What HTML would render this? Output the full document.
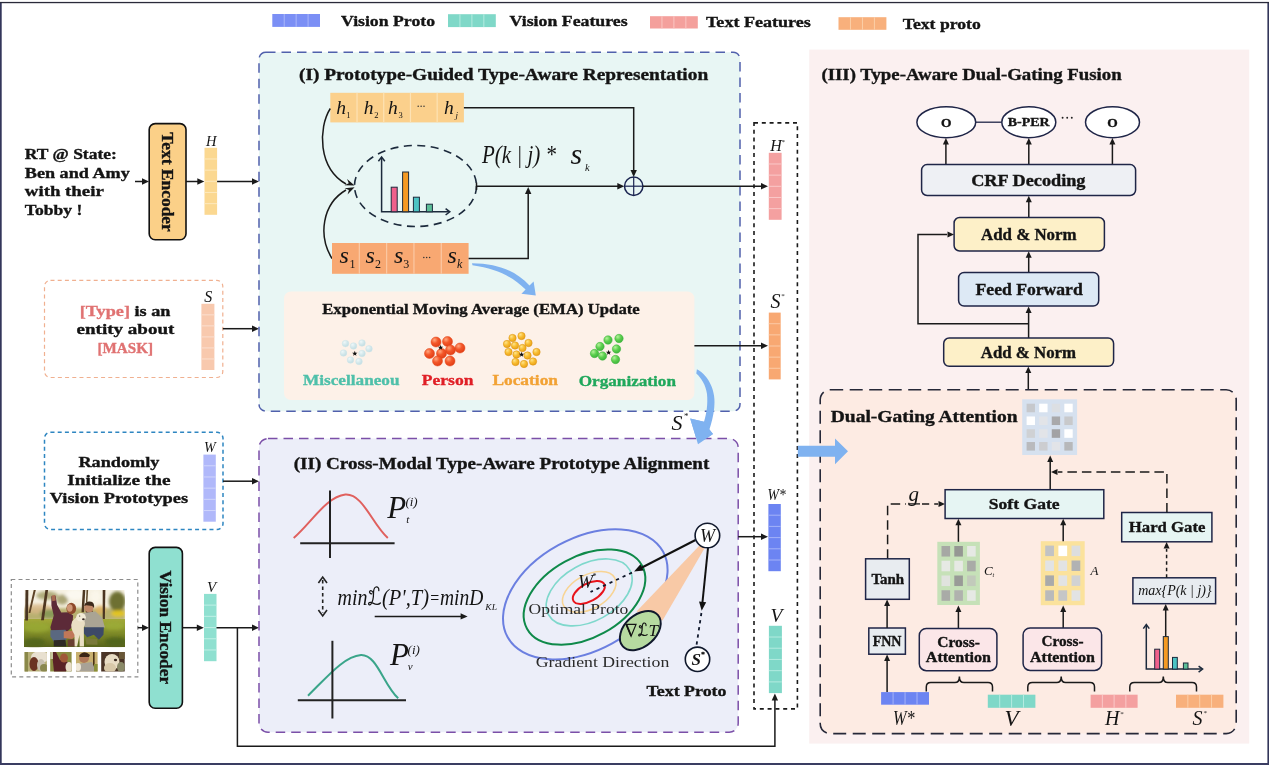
<!DOCTYPE html>
<html><head><meta charset="utf-8"><title>Framework</title>
<style>
html,body{margin:0;padding:0;background:#ffffff;}
body{width:1269px;height:765px;overflow:hidden;font-family:"Liberation Serif",serif;}
svg{display:block;will-change:transform;transform:translateZ(0);}
svg text{font-family:"Liberation Serif",serif;}
</style></head><body>
<svg width="1269" height="765" viewBox="0 0 1269 765">
<defs>
<radialGradient id="gRed" cx="35%" cy="30%" r="75%"><stop offset="0" stop-color="#ffa880"/><stop offset="0.45" stop-color="#f4582a"/><stop offset="1" stop-color="#e03c14"/></radialGradient>
<radialGradient id="gYel" cx="35%" cy="30%" r="75%"><stop offset="0" stop-color="#ffe48a"/><stop offset="0.5" stop-color="#f8bc30"/><stop offset="1" stop-color="#e8a018"/></radialGradient>
<radialGradient id="gGrn" cx="35%" cy="30%" r="75%"><stop offset="0" stop-color="#b4f29a"/><stop offset="0.5" stop-color="#5ccf4e"/><stop offset="1" stop-color="#3cb43a"/></radialGradient>
<radialGradient id="gMis" cx="35%" cy="30%" r="75%"><stop offset="0" stop-color="#eef7f8"/><stop offset="0.6" stop-color="#d0e6ea"/><stop offset="1" stop-color="#c0dce2"/></radialGradient>
</defs>
<rect x="0" y="0" width="1269" height="765" fill="#ffffff"/>

<rect x="0" y="2" width="1.7" height="763" fill="#33365a"/><rect x="1267.4" y="2" width="1.6" height="763" fill="#33365a"/><rect x="0" y="763" width="1269" height="2" fill="#3a3d62"/><rect x="0" y="1.9" width="1269" height="1.3" fill="#2a2a3a"/>
<rect x="272.3" y="14" width="47.7" height="12.9" fill="#7b8ff5"/><line x1="284.23" y1="14" x2="284.23" y2="26.9" stroke="#aab6fa" stroke-width="1"/><line x1="296.15" y1="14" x2="296.15" y2="26.9" stroke="#aab6fa" stroke-width="1"/><line x1="308.08" y1="14" x2="308.08" y2="26.9" stroke="#aab6fa" stroke-width="1"/>
<text x="341" y="26" font-size="15" font-weight="bold" font-style="normal" fill="#141414" text-anchor="start" textLength="94" lengthAdjust="spacingAndGlyphs" stroke="#141414" stroke-width="0.35" >Vision Proto</text>
<rect x="448" y="14.2" width="47.8" height="12.9" fill="#7fd8c8"/><line x1="459.95" y1="14.2" x2="459.95" y2="27.1" stroke="#b4ebe0" stroke-width="1"/><line x1="471.90" y1="14.2" x2="471.90" y2="27.1" stroke="#b4ebe0" stroke-width="1"/><line x1="483.85" y1="14.2" x2="483.85" y2="27.1" stroke="#b4ebe0" stroke-width="1"/>
<text x="509.6" y="26" font-size="15" font-weight="bold" font-style="normal" fill="#141414" text-anchor="start" textLength="118" lengthAdjust="spacingAndGlyphs" stroke="#141414" stroke-width="0.35" >Vision Features</text>
<rect x="650" y="16.2" width="47.8" height="12.3" fill="#f4a09c"/><line x1="661.95" y1="16.2" x2="661.95" y2="28.5" stroke="#fac6c2" stroke-width="1"/><line x1="673.90" y1="16.2" x2="673.90" y2="28.5" stroke="#fac6c2" stroke-width="1"/><line x1="685.85" y1="16.2" x2="685.85" y2="28.5" stroke="#fac6c2" stroke-width="1"/>
<text x="706" y="27" font-size="15" font-weight="bold" font-style="normal" fill="#141414" text-anchor="start" textLength="104.7" lengthAdjust="spacingAndGlyphs" stroke="#141414" stroke-width="0.35" >Text Features</text>
<rect x="838.5" y="17.2" width="47.9" height="12.6" fill="#f8b07c"/><line x1="850.48" y1="17.2" x2="850.48" y2="29.799999999999997" stroke="#fbcfa8" stroke-width="1"/><line x1="862.45" y1="17.2" x2="862.45" y2="29.799999999999997" stroke="#fbcfa8" stroke-width="1"/><line x1="874.42" y1="17.2" x2="874.42" y2="29.799999999999997" stroke="#fbcfa8" stroke-width="1"/>
<text x="902.8" y="29" font-size="15" font-weight="bold" font-style="normal" fill="#141414" text-anchor="start" textLength="78" lengthAdjust="spacingAndGlyphs" stroke="#141414" stroke-width="0.35" >Text proto</text>
<text x="24.8" y="159" font-size="15" font-weight="bold" font-style="normal" fill="#141414" text-anchor="start" textLength="92" lengthAdjust="spacingAndGlyphs" stroke="#141414" stroke-width="0.35" >RT @ State:</text>
<text x="24.8" y="177.5" font-size="15" font-weight="bold" font-style="normal" fill="#141414" text-anchor="start" textLength="105" lengthAdjust="spacingAndGlyphs" stroke="#141414" stroke-width="0.35" >Ben and Amy</text>
<text x="24.8" y="196" font-size="15" font-weight="bold" font-style="normal" fill="#141414" text-anchor="start" textLength="79" lengthAdjust="spacingAndGlyphs" stroke="#141414" stroke-width="0.35" >with their</text>
<text x="24.8" y="215.3" font-size="15" font-weight="bold" font-style="normal" fill="#141414" text-anchor="start" textLength="57.5" lengthAdjust="spacingAndGlyphs" stroke="#141414" stroke-width="0.35" >Tobby !</text>
<line x1="135" y1="181.5" x2="143.00" y2="181.50" stroke="#1a1a1a" stroke-width="1.5"/><polygon points="149.00,181.50 142.00,184.70 142.00,178.30" fill="#1a1a1a"/>
<rect x="149.2" y="123.6" width="36.8" height="116.2" rx="6" ry="6" fill="#fbd088" stroke="#111" stroke-width="1.6"/>
<text transform="translate(161.6,132.3) rotate(90)" font-size="16" font-weight="bold" fill="#141414" stroke="#141414" stroke-width="0.35" textLength="99.5" lengthAdjust="spacingAndGlyphs">Text Encoder</text>
<line x1="186" y1="181.5" x2="198.30" y2="181.50" stroke="#1a1a1a" stroke-width="1.5"/><polygon points="204.30,181.50 197.30,184.70 197.30,178.30" fill="#1a1a1a"/>
<text x="206" y="145.8" font-size="14.5" font-weight="normal" font-style="italic" fill="#141414" text-anchor="start" >H</text>
<rect x="204.5" y="147.8" width="12.6" height="67" fill="#fbd891"/><line x1="204.5" y1="158.97" x2="217.1" y2="158.97" stroke="#fde9bd" stroke-width="1"/><line x1="204.5" y1="170.13" x2="217.1" y2="170.13" stroke="#fde9bd" stroke-width="1"/><line x1="204.5" y1="181.30" x2="217.1" y2="181.30" stroke="#fde9bd" stroke-width="1"/><line x1="204.5" y1="192.47" x2="217.1" y2="192.47" stroke="#fde9bd" stroke-width="1"/><line x1="204.5" y1="203.63" x2="217.1" y2="203.63" stroke="#fde9bd" stroke-width="1"/>
<line x1="217.1" y1="181.5" x2="253.00" y2="181.50" stroke="#1a1a1a" stroke-width="1.5"/><polygon points="259.00,181.50 252.00,184.70 252.00,178.30" fill="#1a1a1a"/>
<rect x="44.5" y="280.3" width="178.3" height="97.2" rx="6" ry="6" fill="#ffffff" stroke="#f0b090" stroke-width="1.2" stroke-dasharray="4 3.2"/>
<text x="79.7" y="315.5" font-size="15" font-weight="bold" textLength="90.8" lengthAdjust="spacingAndGlyphs"><tspan fill="#e07272" stroke="#e07272" stroke-width="0.3">[Type]</tspan><tspan fill="#141414" stroke="#141414" stroke-width="0.35"> is an</tspan></text>
<text x="76.6" y="333.8" font-size="15" font-weight="bold" font-style="normal" fill="#141414" text-anchor="start" textLength="97.8" lengthAdjust="spacingAndGlyphs" stroke="#141414" stroke-width="0.35" >entity about</text>
<text x="97.5" y="353.4" font-size="15" font-weight="bold" font-style="normal" fill="#e07272" text-anchor="start" textLength="55.5" lengthAdjust="spacingAndGlyphs" stroke="#e07272" stroke-width="0.35" >[MASK]</text>
<text x="204.3" y="302" font-size="16" font-weight="normal" font-style="italic" fill="#141414" text-anchor="start" >S</text>
<rect x="201.4" y="303.8" width="13" height="66.2" fill="#f8c9ae"/><line x1="201.4" y1="314.83" x2="214.4" y2="314.83" stroke="#fbdfcf" stroke-width="1"/><line x1="201.4" y1="325.87" x2="214.4" y2="325.87" stroke="#fbdfcf" stroke-width="1"/><line x1="201.4" y1="336.90" x2="214.4" y2="336.90" stroke="#fbdfcf" stroke-width="1"/><line x1="201.4" y1="347.93" x2="214.4" y2="347.93" stroke="#fbdfcf" stroke-width="1"/><line x1="201.4" y1="358.97" x2="214.4" y2="358.97" stroke="#fbdfcf" stroke-width="1"/>
<line x1="222.8" y1="328.7" x2="253.00" y2="328.70" stroke="#1a1a1a" stroke-width="1.5"/><polygon points="259.00,328.70 252.00,331.90 252.00,325.50" fill="#1a1a1a"/>
<rect x="44.5" y="432.3" width="178.5" height="97.2" rx="6" ry="6" fill="#ffffff" stroke="#2e86c1" stroke-width="1.5" stroke-dasharray="4 3.2"/>
<text x="78.4" y="466.8" font-size="15.5" font-weight="bold" font-style="normal" fill="#141414" text-anchor="start" textLength="81.1" lengthAdjust="spacingAndGlyphs" stroke="#141414" stroke-width="0.35" >Randomly</text>
<text x="67.2" y="485.1" font-size="15.5" font-weight="bold" font-style="normal" fill="#141414" text-anchor="start" textLength="103.3" lengthAdjust="spacingAndGlyphs" stroke="#141414" stroke-width="0.35" >Initialize the</text>
<text x="49.7" y="503.4" font-size="15.5" font-weight="bold" font-style="normal" fill="#141414" text-anchor="start" textLength="138.5" lengthAdjust="spacingAndGlyphs" stroke="#141414" stroke-width="0.35" >Vision Prototypes</text>
<text x="204" y="451.9" font-size="14" font-weight="normal" font-style="italic" fill="#141414" text-anchor="start" >W</text>
<rect x="203.4" y="454.6" width="12.4" height="67.1" fill="#b0b8fa"/><line x1="203.4" y1="465.78" x2="215.8" y2="465.78" stroke="#d0d5fc" stroke-width="1"/><line x1="203.4" y1="476.97" x2="215.8" y2="476.97" stroke="#d0d5fc" stroke-width="1"/><line x1="203.4" y1="488.15" x2="215.8" y2="488.15" stroke="#d0d5fc" stroke-width="1"/><line x1="203.4" y1="499.33" x2="215.8" y2="499.33" stroke="#d0d5fc" stroke-width="1"/><line x1="203.4" y1="510.52" x2="215.8" y2="510.52" stroke="#d0d5fc" stroke-width="1"/>
<line x1="223" y1="481.2" x2="253.00" y2="481.20" stroke="#1a1a1a" stroke-width="1.5"/><polygon points="259.00,481.20 252.00,484.40 252.00,478.00" fill="#1a1a1a"/>
<rect x="11.3" y="579.5" width="126.5" height="97.4" fill="#ffffff" stroke="#8c8c8c" stroke-width="1.2" stroke-dasharray="4 3.2"/>
<defs>
<clipPath id="cpMain"><rect x="24.6" y="590" width="99.8" height="57.2"/></clipPath>
<clipPath id="cpT1"><rect x="24.6" y="652" width="22.3" height="19.6"/></clipPath>
<clipPath id="cpT2"><rect x="50.2" y="652" width="21.4" height="19.6"/></clipPath>
<clipPath id="cpT3"><rect x="76" y="652" width="21.6" height="19.6"/></clipPath>
<clipPath id="cpT4"><rect x="101.2" y="652" width="23.5" height="19.6"/></clipPath>
<filter id="bl1" x="-20%" y="-20%" width="140%" height="140%"><feGaussianBlur stdDeviation="0.7"/></filter>
<filter id="bl2" x="-20%" y="-20%" width="140%" height="140%"><feGaussianBlur stdDeviation="1.4"/></filter>
<filter id="blz1" x="-10%" y="-10%" width="120%" height="120%"><feGaussianBlur stdDeviation="7"/></filter>
<filter id="blz2" x="-20%" y="-20%" width="140%" height="140%"><feGaussianBlur stdDeviation="22"/></filter>
<linearGradient id="grass" x1="0" y1="0" x2="0" y2="1"><stop offset="0" stop-color="#a4aa3a"/><stop offset="0.45" stop-color="#828e2a"/><stop offset="1" stop-color="#56621c"/></linearGradient>
<linearGradient id="sky" x1="0" y1="0" x2="0" y2="1"><stop offset="0" stop-color="#f4ecd8"/><stop offset="1" stop-color="#d8cf9c"/></linearGradient>
</defs>
<g clip-path="url(#cpMain)">
<g transform="translate(22,588) scale(0.08354)">
<rect x="20" y="10" width="1220" height="380" fill="#f6f1e2"/>
<g filter="url(#blz2)">
<rect x="20" y="240" width="1220" height="150" fill="#b8b070"/>
<ellipse cx="200" cy="250" rx="170" ry="60" fill="#d8b888" opacity="0.8"/>
<ellipse cx="330" cy="310" rx="120" ry="50" fill="#8a9a58"/>
<ellipse cx="940" cy="260" rx="70" ry="50" fill="#e0b060" opacity="0.8"/>
<ellipse cx="1140" cy="160" rx="100" ry="120" fill="#6e7030"/>
<ellipse cx="1150" cy="305" rx="85" ry="40" fill="#e2c424"/>
<ellipse cx="300" cy="90" rx="130" ry="50" fill="#9a9458" opacity="0.75"/>
<ellipse cx="480" cy="140" rx="70" ry="60" fill="#8a8448" opacity="0.7"/>
<ellipse cx="640" cy="80" rx="120" ry="60" fill="#fbf8f0"/>
<ellipse cx="880" cy="100" rx="60" ry="70" fill="#faf6ea"/>
</g>
<rect x="20" y="375" width="1220" height="340" fill="url(#grass)"/>
<g filter="url(#blz2)">
<ellipse cx="180" cy="470" rx="160" ry="60" fill="#98aa34" opacity="0.8"/>
<ellipse cx="1100" cy="450" rx="130" ry="50" fill="#9cac38" opacity="0.8"/>
<ellipse cx="1120" cy="640" rx="130" ry="50" fill="#4e6216" opacity="0.8"/>
<ellipse cx="150" cy="650" rx="130" ry="50" fill="#506418" opacity="0.8"/>
</g>
<g filter="url(#blz1)">
<path d="M42,20 L76,20 L72,388 L38,388 Z" fill="#4a3420"/>
<path d="M140,25 L165,25 L100,300 L78,300 Z" fill="#5c4226"/>
<path d="M280,25 L312,25 L262,385 L228,385 Z" fill="#503820"/>
<path d="M728,22 L758,22 L742,290 L712,290 Z" fill="#4e3822"/>
<path d="M772,25 L792,25 L782,170 L766,170 Z" fill="#5e482a"/>
<path d="M966,22 L998,22 L992,372 L966,372 Z" fill="#4c3620"/>
<!-- woman -->
<path d="M352,100 L402,92 L420,200 L470,292 L560,290 L612,330 L600,470 L540,520 L350,510 L340,470 L380,330 L352,210 Z" fill="#5c2a38"/>
<path d="M356,90 L398,84 L404,150 L362,160 Z" fill="#a86a50"/>
<ellipse cx="590" cy="245" rx="58" ry="68" fill="#8e4a2a"/>
<ellipse cx="572" cy="240" rx="34" ry="44" fill="#d09878"/>
<path d="M340,505 L520,500 L560,560 L520,630 L380,640 L340,580 Z" fill="#5a6880"/>
<path d="M500,520 L620,510 L650,570 L600,610 L500,600 Z" fill="#c07858"/>
<path d="M380,625 L520,620 L530,700 L380,700 Z" fill="#2e2a26"/>
<path d="M545,620 L640,610 L640,700 L550,700 Z" fill="#6a4030"/>
<!-- man -->
<ellipse cx="800" cy="232" rx="56" ry="64" fill="#c08868"/>
<path d="M745,215 Q760,150 830,165 Q872,180 862,240 L840,215 L770,205 Z" fill="#3e2c1c"/>
<path d="M760,270 Q800,320 850,268 L846,300 L770,305 Z" fill="#6a4630"/>
<path d="M730,300 L880,280 L960,360 L992,470 L940,500 L760,480 L720,420 Z" fill="#aaa494"/>
<path d="M740,470 L980,470 L975,560 L920,620 L860,560 L780,590 L735,540 Z" fill="#3c4a68"/>
<path d="M760,600 L900,610 L905,680 L770,676 Z" fill="#7a7a3a"/>
<!-- dog -->
<path d="M600,400 Q650,330 730,350 Q770,420 740,470 L742,700 L690,700 L688,560 L660,700 L630,700 L628,560 Q570,470 600,400 Z" fill="#eadfc4"/>
<ellipse cx="706" cy="350" rx="58" ry="52" fill="#f2ead6"/>
<ellipse cx="735" cy="375" rx="16" ry="12" fill="#3a2c26"/>
<ellipse cx="690" cy="335" rx="8" ry="7" fill="#3a2c26"/>
</g>
</g>
</g>
<!-- thumbnails -->
<g clip-path="url(#cpT1)"><rect x="24" y="651" width="24" height="22" fill="#b8b078"/><g filter="url(#bl1)">
<rect x="24" y="651" width="4" height="22" fill="#8a8848"/><ellipse cx="40" cy="657" rx="9" ry="6" fill="#e8e0d0"/><ellipse cx="34" cy="664" rx="4.5" ry="7" fill="#6a3020"/><ellipse cx="41" cy="665" rx="4" ry="6" fill="#c8c0b0"/><ellipse cx="44" cy="668" rx="4" ry="4" fill="#8a8850"/></g></g>
<g clip-path="url(#cpT2)"><rect x="50" y="651" width="22" height="22" fill="#8a8c40"/><g filter="url(#bl1)">
<path d="M52,652 L56,652 L60,660 L68,662 L66,672 L54,672 Z" fill="#5a2028"/><ellipse cx="64" cy="658" rx="4" ry="4.5" fill="#a05838"/><ellipse cx="69" cy="667" rx="3.5" ry="5" fill="#e8dcc8"/><rect x="50" y="651" width="3" height="8" fill="#c8c8a0"/></g></g>
<g clip-path="url(#cpT3)"><rect x="76" y="651" width="22" height="22" fill="#c8b070"/><g filter="url(#bl1)">
<rect x="93" y="651" width="1.6" height="16" fill="#4a3018"/><ellipse cx="84" cy="658" rx="5" ry="5" fill="#b07858"/><path d="M79,656 Q84,649 90,655 L89,657 L80,657 Z" fill="#3a2818"/><path d="M77,664 L92,662 L96,672 L76,672 Z" fill="#a8a296"/><ellipse cx="78" cy="667" rx="3" ry="4" fill="#f0e8d8"/><rect x="94" y="664" width="4" height="8" fill="#8a9038"/></g></g>
<g clip-path="url(#cpT4)"><rect x="101" y="651" width="24" height="22" fill="#4a3426"/><g filter="url(#bl1)">
<ellipse cx="112" cy="662" rx="7.5" ry="8" fill="#e8dcc4"/><ellipse cx="110" cy="668" rx="6" ry="5" fill="#d8c8a8"/><ellipse cx="115.5" cy="660" rx="1.6" ry="1.3" fill="#3a2a20"/><ellipse cx="121" cy="667" rx="4" ry="5" fill="#8a8a68"/><rect x="119" y="651" width="6" height="8" fill="#6a5838"/></g></g>

<line x1="137.8" y1="627.7" x2="143.00" y2="627.70" stroke="#1a1a1a" stroke-width="1.5"/><polygon points="149.00,627.70 142.00,630.90 142.00,624.50" fill="#1a1a1a"/>
<rect x="149.2" y="547.4" width="33.2" height="160.8" rx="6" ry="6" fill="#8fe0d0" stroke="#111" stroke-width="1.6"/>
<text transform="translate(160,570.6) rotate(90)" font-size="16" font-weight="bold" fill="#141414" stroke="#141414" stroke-width="0.35" textLength="113.5" lengthAdjust="spacingAndGlyphs">Vision Encoder</text>
<line x1="182.4" y1="627.7" x2="197.80" y2="627.70" stroke="#1a1a1a" stroke-width="1.5"/><polygon points="203.80,627.70 196.80,630.90 196.80,624.50" fill="#1a1a1a"/>
<text x="207" y="591.9" font-size="15" font-weight="normal" font-style="italic" fill="#141414" text-anchor="start" >V</text>
<rect x="204" y="593.9" width="12.5" height="67.3" fill="#8fe0d0"/><line x1="204" y1="605.12" x2="216.5" y2="605.12" stroke="#c0f0e6" stroke-width="1"/><line x1="204" y1="616.33" x2="216.5" y2="616.33" stroke="#c0f0e6" stroke-width="1"/><line x1="204" y1="627.55" x2="216.5" y2="627.55" stroke="#c0f0e6" stroke-width="1"/><line x1="204" y1="638.77" x2="216.5" y2="638.77" stroke="#c0f0e6" stroke-width="1"/><line x1="204" y1="649.98" x2="216.5" y2="649.98" stroke="#c0f0e6" stroke-width="1"/>
<line x1="216.5" y1="627.7" x2="253.00" y2="627.70" stroke="#1a1a1a" stroke-width="1.5"/><polygon points="259.00,627.70 252.00,630.90 252.00,624.50" fill="#1a1a1a"/>
<polyline points="237.4,627.7 237.4,746.2 774.9,746.2 774.9,700" fill="none" stroke="#1a1a1a" stroke-width="1.5"/>
<polygon points="774.90,693.60 778.10,700.60 771.70,700.60" fill="#1a1a1a"/>
<rect x="259" y="52.3" width="481" height="358.9" rx="7" ry="7" fill="#e8f6f4" stroke="#5060ac" stroke-width="1.5" stroke-dasharray="9.5 6"/>
<text x="299" y="80" font-size="16.5" font-weight="bold" font-style="normal" fill="#141414" text-anchor="start" textLength="409.2" lengthAdjust="spacingAndGlyphs" stroke="#141414" stroke-width="0.35" >(I) Prototype-Guided Type-Aware Representation</text>
<rect x="330.3" y="92.8" width="133.6" height="29.6" fill="#fbd08c"/><line x1="357.02" y1="92.8" x2="357.02" y2="122.4" stroke="#fde2b4" stroke-width="1.2"/><line x1="383.74" y1="92.8" x2="383.74" y2="122.4" stroke="#fde2b4" stroke-width="1.2"/><line x1="410.46" y1="92.8" x2="410.46" y2="122.4" stroke="#fde2b4" stroke-width="1.2"/><line x1="437.18" y1="92.8" x2="437.18" y2="122.4" stroke="#fde2b4" stroke-width="1.2"/>
<text x="336.3" y="114.2" font-size="19.5" font-weight="normal" font-style="italic" fill="#141414" text-anchor="start" >h</text><text x="346.2" y="117.6" font-size="8.5" font-weight="normal" font-style="normal" fill="#141414" text-anchor="start" >1</text>
<text x="363.8" y="114.2" font-size="19.5" font-weight="normal" font-style="italic" fill="#141414" text-anchor="start" >h</text><text x="374.2" y="117.6" font-size="8.5" font-weight="normal" font-style="normal" fill="#141414" text-anchor="start" >2</text>
<text x="388" y="114.2" font-size="19.5" font-weight="normal" font-style="italic" fill="#141414" text-anchor="start" >h</text><text x="398.6" y="117.6" font-size="8.5" font-weight="normal" font-style="normal" fill="#141414" text-anchor="start" >3</text>
<text x="444" y="114.2" font-size="19.5" font-weight="normal" font-style="italic" fill="#141414" text-anchor="start" >h</text><text x="455.4" y="117.6" font-size="9" font-weight="normal" font-style="italic" fill="#141414" text-anchor="start" >j</text>
<circle cx="418.2" cy="106.3" r="0.75" fill="#333"/>
<circle cx="421.09999999999997" cy="106.3" r="0.75" fill="#333"/>
<circle cx="424.0" cy="106.3" r="0.75" fill="#333"/>
<polyline points="463.9,107.7 633.7,107.7 633.7,171" fill="none" stroke="#1a1a1a" stroke-width="1.5"/>
<polygon points="633.70,177.00 630.50,170.00 636.90,170.00" fill="#1a1a1a"/>
<ellipse cx="415.5" cy="186" rx="61" ry="40.5" fill="none" stroke="#1c2a3c" stroke-width="1.6" stroke-dasharray="8 5.5"/>
<polyline points="381.6,158 381.6,211.8 448.8,211.8" fill="none" stroke="#1c2a3c" stroke-width="1.5"/><polyline points="378.40000000000003,161.2 381.6,157 384.8,161.2" fill="none" stroke="#1c2a3c" stroke-width="1.5"/><polyline points="445.6,208.60000000000002 449.8,211.8 445.6,215.0" fill="none" stroke="#1c2a3c" stroke-width="1.5"/><rect x="391.2" y="187.2" width="6.00" height="24.60" fill="#f0608c" stroke="#1c2a3c" stroke-width="1"/><rect x="402.6" y="172" width="6.00" height="39.80" fill="#f59a23" stroke="#1c2a3c" stroke-width="1"/><rect x="413.4" y="197.2" width="6.00" height="14.60" fill="#4cc4c4" stroke="#1c2a3c" stroke-width="1"/><rect x="426.4" y="204.2" width="6.00" height="7.60" fill="#5cbf98" stroke="#1c2a3c" stroke-width="1"/>
<path d="M330.3,108.5 C318,128 318,168 346,184" fill="none" stroke="#1a1a1a" stroke-width="1.5"/>
<polygon points="354.60,185.60 344.52,185.19 348.76,183.24 347.07,178.89" fill="#1a1a1a"/>
<path d="M332,258.5 C318,236 322,204 346,190" fill="none" stroke="#1a1a1a" stroke-width="1.5"/>
<polygon points="354.60,187.20 347.55,194.42 348.94,189.96 344.57,188.31" fill="#1a1a1a"/>
<text x="482" y="163" font-size="25" font-weight="normal" font-style="italic" fill="#141414" text-anchor="start" textLength="74" lengthAdjust="spacingAndGlyphs" >P(k | j) *</text>
<text x="570.6" y="164" font-size="30" font-weight="normal" font-style="italic" fill="#141414" text-anchor="start" >s</text>
<text x="585" y="171" font-size="10.5" font-weight="normal" font-style="italic" fill="#141414" text-anchor="start" >k</text>
<line x1="476.5" y1="182.5" x2="476.5" y2="190" stroke="#1a1a1a" stroke-width="1.5"/>
<line x1="476.5" y1="186.2" x2="618.30" y2="186.20" stroke="#1a1a1a" stroke-width="1.5"/><polygon points="624.30,186.20 617.30,189.40 617.30,183.00" fill="#1a1a1a"/>
<circle cx="633.7" cy="186.2" r="9.2" fill="none" stroke="#1a2450" stroke-width="1.5"/>
<line x1="624.5" y1="186.2" x2="642.9" y2="186.2" stroke="#1a2450" stroke-width="1.2"/><line x1="633.7" y1="177" x2="633.7" y2="195.4" stroke="#1a2450" stroke-width="1.2"/>
<line x1="642.9" y1="186.2" x2="762.00" y2="186.20" stroke="#1a1a1a" stroke-width="1.5"/><polygon points="768.00,186.20 761.00,189.40 761.00,183.00" fill="#1a1a1a"/>
<rect x="332" y="243" width="136.6" height="30.8" fill="#f8a872"/><line x1="359.32" y1="243" x2="359.32" y2="273.8" stroke="#fbc8a4" stroke-width="1.2"/><line x1="386.64" y1="243" x2="386.64" y2="273.8" stroke="#fbc8a4" stroke-width="1.2"/><line x1="413.96" y1="243" x2="413.96" y2="273.8" stroke="#fbc8a4" stroke-width="1.2"/><line x1="441.28" y1="243" x2="441.28" y2="273.8" stroke="#fbc8a4" stroke-width="1.2"/>
<text x="339.5" y="263.3" font-size="24" font-weight="normal" font-style="italic" fill="#141414" text-anchor="start" >s</text><text x="349.4" y="267.6" font-size="12" font-weight="normal" font-style="normal" fill="#141414" text-anchor="start" >1</text>
<text x="365.4" y="263.3" font-size="24" font-weight="normal" font-style="italic" fill="#141414" text-anchor="start" >s</text><text x="375" y="267.6" font-size="12" font-weight="normal" font-style="normal" fill="#141414" text-anchor="start" >2</text>
<text x="394" y="263.3" font-size="24" font-weight="normal" font-style="italic" fill="#141414" text-anchor="start" >s</text><text x="403.2" y="267.6" font-size="12" font-weight="normal" font-style="normal" fill="#141414" text-anchor="start" >3</text>
<text x="447.6" y="263.3" font-size="24" font-weight="normal" font-style="italic" fill="#141414" text-anchor="start" >s</text><text x="457" y="267.6" font-size="12" font-weight="normal" font-style="italic" fill="#141414" text-anchor="start" >k</text>
<circle cx="423.8" cy="257.4" r="0.75" fill="#333"/>
<circle cx="426.7" cy="257.4" r="0.75" fill="#333"/>
<circle cx="429.6" cy="257.4" r="0.75" fill="#333"/>
<polyline points="468.6,258.6 528.2,258.6 528.2,193" fill="none" stroke="#1a1a1a" stroke-width="1.5"/>
<polygon points="528.20,187.00 531.40,194.00 525.00,194.00" fill="#1a1a1a"/>
<rect x="284" y="291.4" width="410.4" height="108.6" rx="7" ry="7" fill="#fdf1e8"/>
<path d="M472,263.2 C498,263.5 516,271 529.5,285.6 L533.6,281.4 L535.8,295.6 L521.4,293.8 L525.6,289.6 C512,276.5 497,268.6 472.5,265.2 Z" fill="#7fb2f0"/>
<text x="322.2" y="313.8" font-size="15.5" font-weight="bold" font-style="normal" fill="#141414" text-anchor="start" textLength="317.6" lengthAdjust="spacingAndGlyphs" stroke="#141414" stroke-width="0.35" >Exponential Moving Average (EMA) Update</text>
<circle cx="345.5" cy="343.6" r="3.3" fill="url(#gMis)" stroke="#cfe4e8" stroke-width="0.5"/><circle cx="353.5" cy="346" r="3.3" fill="url(#gMis)" stroke="#cfe4e8" stroke-width="0.5"/><circle cx="362" cy="343" r="3.3" fill="url(#gMis)" stroke="#cfe4e8" stroke-width="0.5"/><circle cx="369" cy="348.8" r="3.3" fill="url(#gMis)" stroke="#cfe4e8" stroke-width="0.5"/><circle cx="343.5" cy="353" r="3.3" fill="url(#gMis)" stroke="#cfe4e8" stroke-width="0.5"/><circle cx="362" cy="353.5" r="3.3" fill="url(#gMis)" stroke="#cfe4e8" stroke-width="0.5"/><circle cx="350.5" cy="360" r="3.3" fill="url(#gMis)" stroke="#cfe4e8" stroke-width="0.5"/><circle cx="359" cy="361.5" r="3.3" fill="url(#gMis)" stroke="#cfe4e8" stroke-width="0.5"/>
<polygon points="354.80,350.80 355.49,352.65 357.46,352.73 355.92,353.96 356.45,355.87 354.80,354.78 353.15,355.87 353.68,353.96 352.14,352.73 354.11,352.65" fill="#111"/>
<circle cx="436" cy="342" r="5" fill="url(#gRed)" stroke="#e04418" stroke-width="0.5"/><circle cx="447.5" cy="341.5" r="5" fill="url(#gRed)" stroke="#e04418" stroke-width="0.5"/><circle cx="460" cy="348" r="5" fill="url(#gRed)" stroke="#e04418" stroke-width="0.5"/><circle cx="429.5" cy="353.5" r="5" fill="url(#gRed)" stroke="#e04418" stroke-width="0.5"/><circle cx="450.5" cy="350" r="5" fill="url(#gRed)" stroke="#e04418" stroke-width="0.5"/><circle cx="441.5" cy="353.5" r="5" fill="url(#gRed)" stroke="#e04418" stroke-width="0.5"/><circle cx="437.5" cy="361" r="5" fill="url(#gRed)" stroke="#e04418" stroke-width="0.5"/><circle cx="450" cy="361" r="5" fill="url(#gRed)" stroke="#e04418" stroke-width="0.5"/>
<polygon points="440.60,344.80 441.29,346.65 443.26,346.73 441.72,347.96 442.25,349.87 440.60,348.78 438.95,349.87 439.48,347.96 437.94,346.73 439.91,346.65" fill="#111"/>
<circle cx="512.5" cy="338" r="3.7" fill="url(#gYel)" stroke="#d89010" stroke-width="0.5"/><circle cx="521.5" cy="336" r="3.7" fill="url(#gYel)" stroke="#d89010" stroke-width="0.5"/><circle cx="507" cy="344" r="3.7" fill="url(#gYel)" stroke="#d89010" stroke-width="0.5"/><circle cx="515" cy="345.5" r="3.7" fill="url(#gYel)" stroke="#d89010" stroke-width="0.5"/><circle cx="528.5" cy="343" r="3.7" fill="url(#gYel)" stroke="#d89010" stroke-width="0.5"/><circle cx="522.5" cy="348" r="3.7" fill="url(#gYel)" stroke="#d89010" stroke-width="0.5"/><circle cx="508.5" cy="352" r="3.7" fill="url(#gYel)" stroke="#d89010" stroke-width="0.5"/><circle cx="516.5" cy="354.5" r="3.7" fill="url(#gYel)" stroke="#d89010" stroke-width="0.5"/><circle cx="527.5" cy="355.5" r="3.7" fill="url(#gYel)" stroke="#d89010" stroke-width="0.5"/><circle cx="536.5" cy="352" r="3.7" fill="url(#gYel)" stroke="#d89010" stroke-width="0.5"/><circle cx="515.5" cy="362" r="3.7" fill="url(#gYel)" stroke="#d89010" stroke-width="0.5"/><circle cx="524" cy="364" r="3.7" fill="url(#gYel)" stroke="#d89010" stroke-width="0.5"/><circle cx="533" cy="361.5" r="3.7" fill="url(#gYel)" stroke="#d89010" stroke-width="0.5"/>
<polygon points="521.60,351.80 522.29,353.65 524.26,353.73 522.72,354.96 523.25,356.87 521.60,355.78 519.95,356.87 520.48,354.96 518.94,353.73 520.91,353.65" fill="#111"/>
<circle cx="608" cy="340" r="4.2" fill="url(#gGrn)" stroke="#38b038" stroke-width="0.5"/><circle cx="619" cy="338.5" r="4.2" fill="url(#gGrn)" stroke="#38b038" stroke-width="0.5"/><circle cx="600" cy="346.5" r="4.2" fill="url(#gGrn)" stroke="#38b038" stroke-width="0.5"/><circle cx="616.5" cy="349" r="4.2" fill="url(#gGrn)" stroke="#38b038" stroke-width="0.5"/><circle cx="594.5" cy="353.5" r="4.2" fill="url(#gGrn)" stroke="#38b038" stroke-width="0.5"/><circle cx="602.5" cy="356" r="4.2" fill="url(#gGrn)" stroke="#38b038" stroke-width="0.5"/><circle cx="615.5" cy="359.5" r="4.2" fill="url(#gGrn)" stroke="#38b038" stroke-width="0.5"/>
<polygon points="608.60,349.80 609.29,351.65 611.26,351.73 609.72,352.96 610.25,354.87 608.60,353.78 606.95,354.87 607.48,352.96 605.94,351.73 607.91,351.65" fill="#111"/>
<text x="303" y="385" font-size="15.5" font-weight="bold" font-style="normal" fill="#4fc0aa" text-anchor="start" textLength="96.5" lengthAdjust="spacingAndGlyphs" stroke="#4fc0aa" stroke-width="0.35" >Miscellaneou</text>
<text x="421.8" y="385" font-size="15.5" font-weight="bold" font-style="normal" fill="#e01f26" text-anchor="start" textLength="51.7" lengthAdjust="spacingAndGlyphs" stroke="#e01f26" stroke-width="0.35" >Person</text>
<text x="492.4" y="385.3" font-size="15.5" font-weight="bold" font-style="normal" fill="#f2a234" text-anchor="start" textLength="65.6" lengthAdjust="spacingAndGlyphs" stroke="#f2a234" stroke-width="0.35" >Location</text>
<text x="578.7" y="386.3" font-size="15.5" font-weight="bold" font-style="normal" fill="#20a85c" text-anchor="start" textLength="97.3" lengthAdjust="spacingAndGlyphs" stroke="#20a85c" stroke-width="0.35" >Organization</text>
<line x1="694.4" y1="345.8" x2="762.00" y2="345.80" stroke="#1a1a1a" stroke-width="1.5"/><polygon points="768.00,345.80 761.00,349.00 761.00,342.60" fill="#1a1a1a"/>
<path d="M696.9,369.3 C709,375.5 716.5,392 714.2,408 C713.4,416 711.5,423 709.4,429.6 L713,434 L698,444.2 L690.2,418.4 L704,421.8 C706.5,414 708,404 707,394 C705.8,385 701.5,378 696.3,373.4 Z" fill="#7fb2f0"/>
<text x="671.6" y="429.6" font-size="22" font-weight="normal" font-style="italic" fill="#141414" text-anchor="start" >S</text>
<text x="684" y="418.5" font-size="9" font-weight="normal" font-style="normal" fill="#141414" text-anchor="start" >*</text>
<rect x="259" y="438.6" width="479.2" height="293.7" rx="9" ry="9" fill="#eceef9" stroke="#7b4fa8" stroke-width="1.5" stroke-dasharray="9.5 6"/>
<path d="M709.4,429.6 L713,434 L698,444.2 L690.2,418.4 L704,421.8 Z" fill="#7fb2f0"/>
<text x="293.7" y="468.8" font-size="16.5" font-weight="bold" font-style="normal" fill="#141414" text-anchor="start" textLength="415.6" lengthAdjust="spacingAndGlyphs" stroke="#141414" stroke-width="0.35" >(II) Cross-Modal Type-Aware Prototype Alignment</text>
<path d="M293.7,538 C312,522 326,497 345.4,494.6 C363,493.5 372,524 387.8,538" fill="none" stroke="#e0605e" stroke-width="2"/>
<line x1="330" y1="490.6" x2="330" y2="558" stroke="#222" stroke-width="2"/>
<line x1="300.2" y1="543.2" x2="394.6" y2="543.2" stroke="#222" stroke-width="2"/>
<text x="387.3" y="517.6" font-size="31" font-weight="normal" font-style="italic" fill="#141414" text-anchor="start" >P</text>
<text x="405.4" y="506" font-size="13" font-weight="normal" font-style="italic" fill="#141414" text-anchor="start" >(i)</text>
<text x="406.3" y="522.5" font-size="11" font-weight="normal" font-style="italic" fill="#141414" text-anchor="start" >t</text>
<line x1="322.7" y1="580" x2="322.7" y2="613" stroke="#222" stroke-width="1.6" stroke-dasharray="3.5 3"/>
<polyline points="318.4,583 322.7,577 327,583" fill="none" stroke="#222" stroke-width="1.6"/>
<polyline points="318.4,610 322.7,616 327,610" fill="none" stroke="#222" stroke-width="1.6"/>
<text x="337.6" y="605.2" font-size="23" font-weight="normal" font-style="italic" fill="#141414" text-anchor="start" textLength="30" lengthAdjust="spacingAndGlyphs" >min</text>
<g transform="translate(368.2,586.4)"><path d="M10.6,4.2 C11,1.6 9.4,0.2 7.7,0.6 C5.6,1.2 5.3,4 5.3,7.2 C5.3,11.2 4.7,15.2 2.7,17.8 C1.7,19 0.2,18.6 0.4,17.2 C0.6,15.8 2.7,15.7 4.7,16.7 C7.1,17.9 9.8,19.2 12.2,16.6 M5.3,7.2 C4.6,4.6 2.6,3.6 1.6,4.8 C0.8,5.8 1.8,7.4 3.6,7.4" fill="none" stroke="#141414" stroke-width="1.25" stroke-linecap="round" stroke-linejoin="round"/></g>
<text x="382" y="605.2" font-size="23" font-weight="normal" font-style="italic" fill="#141414" text-anchor="start" textLength="47" lengthAdjust="spacingAndGlyphs" >(P',T)</text>
<text x="430.2" y="604.4" font-size="19" font-weight="normal" font-style="normal" fill="#141414" text-anchor="start" textLength="9" lengthAdjust="spacingAndGlyphs" >=</text>
<text x="440" y="605.2" font-size="23" font-weight="normal" font-style="italic" fill="#141414" text-anchor="start" textLength="43.4" lengthAdjust="spacingAndGlyphs" >minD</text>
<text x="485.3" y="609.8" font-size="8.5" font-weight="normal" font-style="italic" fill="#141414" text-anchor="start" textLength="11.7" lengthAdjust="spacingAndGlyphs" >KL</text>
<line x1="374.7" y1="616.4" x2="461.60" y2="616.40" stroke="#1a1a1a" stroke-width="1.5"/><polygon points="467.60,616.40 460.60,619.60 460.60,613.20" fill="#1a1a1a"/>
<path d="M308,695.7 C328,676 344,656.5 361,655 C377,654.5 383,684 398.2,698.3" fill="none" stroke="#3aa58a" stroke-width="2"/>
<line x1="332.4" y1="640.8" x2="332.4" y2="718.5" stroke="#222" stroke-width="2"/>
<line x1="297.8" y1="700.2" x2="406" y2="700.2" stroke="#222" stroke-width="2"/>
<text x="389.9" y="665" font-size="31" font-weight="normal" font-style="italic" fill="#141414" text-anchor="start" >P</text>
<text x="407.6" y="654" font-size="13" font-weight="normal" font-style="italic" fill="#141414" text-anchor="start" >(i)</text>
<text x="407.8" y="670" font-size="11" font-weight="normal" font-style="italic" fill="#141414" text-anchor="start" >v</text>
<ellipse cx="585.3" cy="594.3" rx="88.7" ry="56" transform="rotate(-28.8 585.3 594.3)" fill="none" stroke="#6b7fe0" stroke-width="2"/>
<ellipse cx="584.5" cy="597.1" rx="65.6" ry="40.6" transform="rotate(-28.8 584.5 597.1)" fill="none" stroke="#0f8a4a" stroke-width="2"/>
<ellipse cx="589.2" cy="592.4" rx="46.4" ry="28.5" transform="rotate(-28.8 589.2 592.4)" fill="none" stroke="#7fd8cc" stroke-width="1.6"/>
<ellipse cx="589.2" cy="591.9" rx="29.1" ry="16.9" transform="rotate(-28.8 589.2 591.9)" fill="none" stroke="#f8d494" stroke-width="1.6"/>
<ellipse cx="588.8" cy="592.4" rx="17.6" ry="8.9" transform="rotate(-28.8 588.8 592.4)" fill="none" stroke="#e8141c" stroke-width="2"/>
<path d="M699.5,545.5 L636.5,611.5 L662.5,620.5 L705,547.5 Z" fill="#f8c9a6"/>
<ellipse cx="640.3" cy="630.6" rx="23.5" ry="15.8" transform="rotate(-42 640.3 630.6)" fill="#b6daa0" stroke="#10182c" stroke-width="2"/>
<path d="M626.2,624.4 L636,624.4 L631.1,636.2 Z" fill="none" stroke="#141414" stroke-width="1.2" stroke-linejoin="miter"/><line x1="626.4" y1="624.5" x2="631.2" y2="636" stroke="#141414" stroke-width="1.9"/>
<g transform="translate(638.4,622.6) scale(0.72)"><path d="M10.6,4.2 C11,1.6 9.4,0.2 7.7,0.6 C5.6,1.2 5.3,4 5.3,7.2 C5.3,11.2 4.7,15.2 2.7,17.8 C1.7,19 0.2,18.6 0.4,17.2 C0.6,15.8 2.7,15.7 4.7,16.7 C7.1,17.9 9.8,19.2 12.2,16.6 M5.3,7.2 C4.6,4.6 2.6,3.6 1.6,4.8 C0.8,5.8 1.8,7.4 3.6,7.4" fill="none" stroke="#141414" stroke-width="1.6" stroke-linecap="round" stroke-linejoin="round"/></g>
<text x="648.4" y="636.3" font-size="17" font-weight="normal" font-style="italic" fill="#141414" text-anchor="start" >T</text>
<line x1="695.5" y1="540" x2="641" y2="568" stroke="#111" stroke-width="2"/>
<polygon points="634.10,571.50 640.40,564.13 643.74,570.50" fill="#111"/>
<line x1="632" y1="572.6" x2="590.5" y2="592" stroke="#10182c" stroke-width="1.8" stroke-dasharray="3.2 4"/>
<line x1="708" y1="548" x2="702.4" y2="603" stroke="#111" stroke-width="2"/>
<polygon points="701.70,610.80 699.03,601.48 706.19,602.21" fill="#111"/>
<line x1="701.4" y1="613" x2="696.3" y2="646.6" stroke="#10182c" stroke-width="1.8" stroke-dasharray="3.2 4"/>
<circle cx="707.4" cy="535.5" r="12.3" fill="#ffffff" stroke="#10182c" stroke-width="1.6"/>
<text x="707.6" y="541.6" font-size="18" font-weight="normal" font-style="italic" fill="#141414" text-anchor="middle" >W</text>
<circle cx="697.5" cy="659.3" r="12.2" fill="#ffffff" stroke="#10182c" stroke-width="1.6"/>
<text x="691.6" y="665" font-size="17" font-weight="bold" font-style="italic" fill="#141414" text-anchor="start" >S</text>
<text x="701.3" y="655.6" font-size="7" font-weight="bold" font-style="normal" fill="#141414" text-anchor="start" stroke="#141414" stroke-width="0.35" >*</text>
<text x="578" y="587.8" font-size="18" font-weight="normal" font-style="italic" fill="#141414" text-anchor="start" >W</text>
<text x="592.4" y="579.4" font-size="8" font-weight="normal" font-style="normal" fill="#141414" text-anchor="start" >*</text>
<text x="528.5" y="614.4" font-size="14.5" font-weight="normal" font-style="normal" fill="#2a2a2a" text-anchor="start" textLength="99.8" lengthAdjust="spacingAndGlyphs" >Optimal Proto</text>
<text x="535.8" y="666.8" font-size="14.5" font-weight="normal" font-style="normal" fill="#2a2a2a" text-anchor="start" textLength="133.5" lengthAdjust="spacingAndGlyphs" >Gradient Direction</text>
<text x="646.5" y="695.7" font-size="15.5" font-weight="bold" font-style="normal" fill="#141414" text-anchor="start" textLength="80" lengthAdjust="spacingAndGlyphs" stroke="#141414" stroke-width="0.35" >Text Proto</text>
<line x1="738.2" y1="536.7" x2="762.00" y2="536.70" stroke="#1a1a1a" stroke-width="1.5"/><polygon points="768.00,536.70 761.00,539.90 761.00,533.50" fill="#1a1a1a"/>
<rect x="754" y="122.9" width="43.4" height="586" fill="none" stroke="#1a1a1a" stroke-width="1.6" stroke-dasharray="4 3.8"/>
<text x="770.2" y="150.8" font-size="16" font-weight="normal" font-style="italic" fill="#141414" text-anchor="start" >H</text>
<text x="781.6" y="144" font-size="7" font-weight="normal" font-style="normal" fill="#141414" text-anchor="start" >*</text>
<rect x="768.8" y="152.8" width="12.8" height="67" fill="#f4a0a0"/><line x1="768.8" y1="163.97" x2="781.5999999999999" y2="163.97" stroke="#fac8c8" stroke-width="1"/><line x1="768.8" y1="175.13" x2="781.5999999999999" y2="175.13" stroke="#fac8c8" stroke-width="1"/><line x1="768.8" y1="186.30" x2="781.5999999999999" y2="186.30" stroke="#fac8c8" stroke-width="1"/><line x1="768.8" y1="197.47" x2="781.5999999999999" y2="197.47" stroke="#fac8c8" stroke-width="1"/><line x1="768.8" y1="208.63" x2="781.5999999999999" y2="208.63" stroke="#fac8c8" stroke-width="1"/>
<text x="770.6" y="307.8" font-size="20" font-weight="normal" font-style="italic" fill="#141414" text-anchor="start" >S</text>
<text x="781.2" y="298.4" font-size="7" font-weight="normal" font-style="normal" fill="#141414" text-anchor="start" >*</text>
<rect x="768.8" y="312.6" width="11.9" height="66.8" fill="#f8a872"/><line x1="768.8" y1="323.73" x2="780.6999999999999" y2="323.73" stroke="#fbcaa6" stroke-width="1"/><line x1="768.8" y1="334.87" x2="780.6999999999999" y2="334.87" stroke="#fbcaa6" stroke-width="1"/><line x1="768.8" y1="346.00" x2="780.6999999999999" y2="346.00" stroke="#fbcaa6" stroke-width="1"/><line x1="768.8" y1="357.13" x2="780.6999999999999" y2="357.13" stroke="#fbcaa6" stroke-width="1"/><line x1="768.8" y1="368.27" x2="780.6999999999999" y2="368.27" stroke="#fbcaa6" stroke-width="1"/>
<text x="767.6" y="500.4" font-size="17" font-weight="normal" font-style="italic" fill="#141414" text-anchor="start" textLength="18.2" lengthAdjust="spacingAndGlyphs" >W*</text>
<rect x="768.4" y="504" width="12.4" height="67.2" fill="#6c84f2"/><line x1="768.4" y1="515.20" x2="780.8" y2="515.20" stroke="#a4b2f8" stroke-width="1"/><line x1="768.4" y1="526.40" x2="780.8" y2="526.40" stroke="#a4b2f8" stroke-width="1"/><line x1="768.4" y1="537.60" x2="780.8" y2="537.60" stroke="#a4b2f8" stroke-width="1"/><line x1="768.4" y1="548.80" x2="780.8" y2="548.80" stroke="#a4b2f8" stroke-width="1"/><line x1="768.4" y1="560.00" x2="780.8" y2="560.00" stroke="#a4b2f8" stroke-width="1"/>
<text x="770.4" y="622" font-size="19.5" font-weight="normal" font-style="italic" fill="#141414" text-anchor="start" >V</text>
<rect x="768.9" y="625.8" width="13" height="67.3" fill="#7fd8c8"/><line x1="768.9" y1="637.02" x2="781.9" y2="637.02" stroke="#b4ebe0" stroke-width="1"/><line x1="768.9" y1="648.23" x2="781.9" y2="648.23" stroke="#b4ebe0" stroke-width="1"/><line x1="768.9" y1="659.45" x2="781.9" y2="659.45" stroke="#b4ebe0" stroke-width="1"/><line x1="768.9" y1="670.67" x2="781.9" y2="670.67" stroke="#b4ebe0" stroke-width="1"/><line x1="768.9" y1="681.88" x2="781.9" y2="681.88" stroke="#b4ebe0" stroke-width="1"/>
<rect x="809.2" y="49.6" width="440" height="694" fill="#fbf0f0"/>
<text x="821.4" y="79.7" font-size="16.5" font-weight="bold" font-style="normal" fill="#141414" text-anchor="start" textLength="300.3" lengthAdjust="spacingAndGlyphs" stroke="#141414" stroke-width="0.35" >(III) Type-Aware Dual-Gating Fusion</text>
<line x1="975.7" y1="122.2" x2="1001.8" y2="122.2" stroke="#1f2547" stroke-width="1.3"/>
<ellipse cx="946.3" cy="122.2" rx="29.4" ry="15.5" fill="#ffffff" stroke="#1f2547" stroke-width="1.5"/>
<ellipse cx="1028.8" cy="122.2" rx="27" ry="15.5" fill="#ffffff" stroke="#1f2547" stroke-width="1.5"/>
<ellipse cx="1112.5" cy="122.2" rx="27" ry="15.5" fill="#ffffff" stroke="#1f2547" stroke-width="1.5"/>
<text x="946.3" y="126.6" font-size="13.5" font-weight="bold" font-style="normal" fill="#141414" text-anchor="middle" textLength="10.5" lengthAdjust="spacingAndGlyphs" stroke="#141414" stroke-width="0.35" >O</text>
<text x="1007.8" y="126.2" font-size="12.5" font-weight="bold" font-style="normal" fill="#141414" text-anchor="start" textLength="41.9" lengthAdjust="spacingAndGlyphs" stroke="#141414" stroke-width="0.35" >B-PER</text>
<text x="1112.5" y="126.6" font-size="13.5" font-weight="bold" font-style="normal" fill="#141414" text-anchor="middle" textLength="10.5" lengthAdjust="spacingAndGlyphs" stroke="#141414" stroke-width="0.35" >O</text>
<circle cx="1062.6" cy="117.8" r="0.95" fill="#222"/>
<circle cx="1067.1999999999998" cy="117.8" r="0.95" fill="#222"/>
<circle cx="1071.8" cy="117.8" r="0.95" fill="#222"/>
<line x1="945.9" y1="164.6" x2="945.90" y2="143.50" stroke="#1a1a1a" stroke-width="1.5"/><polygon points="945.90,138.00 948.90,144.50 942.90,144.50" fill="#1a1a1a"/>
<line x1="1028.8" y1="164.6" x2="1028.80" y2="143.50" stroke="#1a1a1a" stroke-width="1.5"/><polygon points="1028.80,138.00 1031.80,144.50 1025.80,144.50" fill="#1a1a1a"/>
<line x1="1112.4" y1="164.6" x2="1112.40" y2="143.50" stroke="#1a1a1a" stroke-width="1.5"/><polygon points="1112.40,138.00 1115.40,144.50 1109.40,144.50" fill="#1a1a1a"/>
<rect x="921.6" y="164.6" width="214.00" height="30.90" rx="5.5" ry="5.5" fill="#eef0f4" stroke="#1f2547" stroke-width="1.5"/>
<text x="971.2" y="185.6" font-size="16" font-weight="bold" font-style="normal" fill="#141414" text-anchor="start" textLength="114.3" lengthAdjust="spacingAndGlyphs" stroke="#141414" stroke-width="0.35" >CRF Decoding</text>
<line x1="1028.8" y1="217.5" x2="1028.80" y2="201.30" stroke="#1a1a1a" stroke-width="1.5"/><polygon points="1028.80,195.80 1031.80,202.30 1025.80,202.30" fill="#1a1a1a"/>
<rect x="954.1" y="217.5" width="150.30" height="33.50" rx="5.5" ry="5.5" fill="#fdf0c8" stroke="#1f2547" stroke-width="1.5"/>
<text x="981" y="239.7" font-size="16" font-weight="bold" font-style="normal" fill="#141414" text-anchor="start" textLength="95.5" lengthAdjust="spacingAndGlyphs" stroke="#141414" stroke-width="0.35" >Add &amp; Norm</text>
<line x1="1028.7" y1="272.4" x2="1028.70" y2="256.80" stroke="#1a1a1a" stroke-width="1.5"/><polygon points="1028.70,251.30 1031.70,257.80 1025.70,257.80" fill="#1a1a1a"/>
<rect x="958.6" y="272.4" width="140.10" height="33.70" rx="5.5" ry="5.5" fill="#dde9f5" stroke="#1f2547" stroke-width="1.5"/>
<text x="975.6" y="294.6" font-size="16" font-weight="bold" font-style="normal" fill="#141414" text-anchor="start" textLength="107.1" lengthAdjust="spacingAndGlyphs" stroke="#141414" stroke-width="0.35" >Feed Forward</text>
<line x1="1028.6" y1="338" x2="1028.60" y2="311.90" stroke="#1a1a1a" stroke-width="1.5"/><polygon points="1028.60,306.40 1031.60,312.90 1025.60,312.90" fill="#1a1a1a"/>
<polyline points="1028.6,323.7 918,323.7 918,234.5 947,234.5" fill="none" stroke="#1a1a1a" stroke-width="1.5"/>
<polygon points="954.00,234.50 947.50,237.50 947.50,231.50" fill="#1a1a1a"/>
<rect x="943.7" y="338" width="169.90" height="28.30" rx="5.5" ry="5.5" fill="#fdf0c8" stroke="#1f2547" stroke-width="1.5"/>
<text x="980.8" y="357.6" font-size="16" font-weight="bold" font-style="normal" fill="#141414" text-anchor="start" textLength="95.2" lengthAdjust="spacingAndGlyphs" stroke="#141414" stroke-width="0.35" >Add &amp; Norm</text>
<line x1="1028.3" y1="390" x2="1028.30" y2="372.10" stroke="#1a1a1a" stroke-width="1.5"/><polygon points="1028.30,366.60 1031.30,373.10 1025.30,373.10" fill="#1a1a1a"/>
<rect x="820.2" y="389.8" width="416" height="343.8" rx="10" ry="10" fill="#fdebe3" stroke="#262838" stroke-width="1.6" stroke-dasharray="13 6.5"/>
<polygon points="797.8,445.8 835,445.8 835,438.5 848,451.3 835,464.2 835,456.8 797.8,456.8" fill="#7fb2f0"/>
<text x="830.8" y="421.5" font-size="16" font-weight="bold" font-style="normal" fill="#141414" text-anchor="start" textLength="186.7" lengthAdjust="spacingAndGlyphs" stroke="#141414" stroke-width="0.35" >Dual-Gating Attention</text>
<rect x="1022.2" y="399.3" width="54.90" height="55.70" fill="#d6e1ef"/><rect x="1026.60" y="403.70" width="8.37" height="8.57" fill="#c6c8cc"/><rect x="1039.18" y="403.70" width="8.37" height="8.57" fill="#ffffff"/><rect x="1051.75" y="403.70" width="8.37" height="8.57" fill="#dcdfe3"/><rect x="1064.33" y="403.70" width="8.37" height="8.57" fill="#ffffff"/><rect x="1026.60" y="416.47" width="8.37" height="8.57" fill="#ffffff"/><rect x="1039.18" y="416.47" width="8.37" height="8.57" fill="#e2e4e8"/><rect x="1051.75" y="416.47" width="8.37" height="8.57" fill="#a9a9ab"/><rect x="1064.33" y="416.47" width="8.37" height="8.57" fill="#c8c9cb"/><rect x="1026.60" y="429.25" width="8.37" height="8.57" fill="#cfd1d4"/><rect x="1039.18" y="429.25" width="8.37" height="8.57" fill="#e2e4e8"/><rect x="1051.75" y="429.25" width="8.37" height="8.57" fill="#a2a2a4"/><rect x="1064.33" y="429.25" width="8.37" height="8.57" fill="#ffffff"/><rect x="1026.60" y="442.02" width="8.37" height="8.57" fill="#b9babd"/><rect x="1039.18" y="442.02" width="8.37" height="8.57" fill="#cccdd0"/><rect x="1051.75" y="442.02" width="8.37" height="8.57" fill="#e2e4e8"/><rect x="1064.33" y="442.02" width="8.37" height="8.57" fill="#b7b8ba"/>
<line x1="1050.2" y1="489.7" x2="1050.20" y2="461.10" stroke="#1a1a1a" stroke-width="1.5"/><polygon points="1050.20,455.60 1053.20,462.10 1047.20,462.10" fill="#1a1a1a"/>
<rect x="945.1" y="489.7" width="158.7" height="28.8" fill="#e6f5f3" stroke="#1f2547" stroke-width="1.5"/>
<text x="988.8" y="509.3" font-size="15.5" font-weight="bold" font-style="normal" fill="#141414" text-anchor="start" textLength="70.8" lengthAdjust="spacingAndGlyphs" stroke="#141414" stroke-width="0.35" >Soft Gate</text>
<rect x="1121.7" y="512.5" width="90.2" height="29.3" fill="#e6f5f3" stroke="#1f2547" stroke-width="1.5"/>
<text x="1128.8" y="532.2" font-size="15.5" font-weight="bold" font-style="normal" fill="#141414" text-anchor="start" textLength="76.6" lengthAdjust="spacingAndGlyphs" stroke="#141414" stroke-width="0.35" >Hard Gate</text>
<polyline points="1166.9,512.5 1166.9,472 1058,472" fill="none" stroke="#1a1a1a" stroke-width="1.5" stroke-dasharray="9.5 5"/>
<polygon points="1051.00,472.00 1057.50,469.00 1057.50,475.00" fill="#1a1a1a"/>
<polyline points="887.6,558.8 887.6,503.9 938,503.9" fill="none" stroke="#1a1a1a" stroke-width="1.5" stroke-dasharray="9.5 5"/>
<polygon points="945.00,503.90 938.50,506.90 938.50,500.90" fill="#1a1a1a"/>
<rect x="906" y="488" width="16" height="22" fill="#fdebe3"/>
<text x="908.6" y="500.6" font-size="21" font-weight="normal" font-style="italic" fill="#141414" text-anchor="start" >g</text>
<line x1="908" y1="503.9" x2="920" y2="503.9" stroke="#1a1a1a" stroke-width="1.3"/>
<rect x="865.6" y="558.8" width="43.7" height="40.5" fill="#e8ecf0" stroke="#1f2547" stroke-width="1.5"/>
<text x="871.4" y="583.6" font-size="14" font-weight="bold" font-style="normal" fill="#141414" text-anchor="start" textLength="32.7" lengthAdjust="spacingAndGlyphs" stroke="#141414" stroke-width="0.35" >Tanh</text>
<rect x="868.8" y="628" width="36.6" height="26.2" fill="#e8ecf0" stroke="#1f2547" stroke-width="1.5"/>
<text x="872.7" y="645.6" font-size="14" font-weight="bold" font-style="normal" fill="#141414" text-anchor="start" textLength="28.8" lengthAdjust="spacingAndGlyphs" stroke="#141414" stroke-width="0.35" >FNN</text>
<line x1="887.1" y1="628" x2="887.10" y2="605.10" stroke="#1a1a1a" stroke-width="1.5"/><polygon points="887.10,599.60 890.10,606.10 884.10,606.10" fill="#1a1a1a"/>
<line x1="887.1" y1="692" x2="887.10" y2="660.00" stroke="#1a1a1a" stroke-width="1.5"/><polygon points="887.10,654.50 890.10,661.00 884.10,661.00" fill="#1a1a1a"/>
<rect x="937.3" y="541.8" width="42.60" height="63.20" fill="#c6e1b8"/><rect x="941.50" y="546.00" width="8.60" height="10.55" fill="#a6a8a4"/><rect x="954.30" y="546.00" width="8.60" height="10.55" fill="#959793"/><rect x="967.10" y="546.00" width="8.60" height="10.55" fill="#e6e9e4"/><rect x="941.50" y="560.75" width="8.60" height="10.55" fill="#e6e9e4"/><rect x="954.30" y="560.75" width="8.60" height="10.55" fill="#e6e9e4"/><rect x="967.10" y="560.75" width="8.60" height="10.55" fill="#a9aba7"/><rect x="941.50" y="575.50" width="8.60" height="10.55" fill="#e0e3de"/><rect x="954.30" y="575.50" width="8.60" height="10.55" fill="#999b97"/><rect x="967.10" y="575.50" width="8.60" height="10.55" fill="#c2cabb"/><rect x="941.50" y="590.25" width="8.60" height="10.55" fill="#a9aba7"/><rect x="954.30" y="590.25" width="8.60" height="10.55" fill="#b0b2ae"/><rect x="967.10" y="590.25" width="8.60" height="10.55" fill="#e6e9e4"/>
<text x="983.9" y="574.6" font-size="13" font-weight="normal" font-style="italic" fill="#141414" text-anchor="start" >C</text>
<text x="992.4" y="577.4" font-size="6" font-weight="normal" font-style="italic" fill="#141414" text-anchor="start" >t</text>
<line x1="958.4" y1="541.8" x2="958.40" y2="524.30" stroke="#1a1a1a" stroke-width="1.5"/><polygon points="958.40,518.80 961.40,525.30 955.40,525.30" fill="#1a1a1a"/>
<line x1="958.4" y1="628.4" x2="958.40" y2="610.90" stroke="#1a1a1a" stroke-width="1.5"/><polygon points="958.40,605.40 961.40,611.90 955.40,611.90" fill="#1a1a1a"/>
<rect x="1040.8" y="541.2" width="43.90" height="64.00" fill="#fbe29c"/><rect x="1045.20" y="545.60" width="8.77" height="10.50" fill="#c2c3c4"/><rect x="1058.37" y="545.60" width="8.77" height="10.50" fill="#ffffff"/><rect x="1071.53" y="545.60" width="8.77" height="10.50" fill="#dddedf"/><rect x="1045.20" y="560.50" width="8.77" height="10.50" fill="#e2e3e4"/><rect x="1058.37" y="560.50" width="8.77" height="10.50" fill="#e2e3e4"/><rect x="1071.53" y="560.50" width="8.77" height="10.50" fill="#b1b2b3"/><rect x="1045.20" y="575.40" width="8.77" height="10.50" fill="#a9aaab"/><rect x="1058.37" y="575.40" width="8.77" height="10.50" fill="#e2e3e4"/><rect x="1071.53" y="575.40" width="8.77" height="10.50" fill="#d1d2d3"/><rect x="1045.20" y="590.30" width="8.77" height="10.50" fill="#b9babb"/><rect x="1058.37" y="590.30" width="8.77" height="10.50" fill="#c5c6c7"/><rect x="1071.53" y="590.30" width="8.77" height="10.50" fill="#e2e3e4"/>
<text x="1090.4" y="574.6" font-size="13" font-weight="normal" font-style="italic" fill="#141414" text-anchor="start" >A</text>
<line x1="1063.2" y1="541.2" x2="1063.20" y2="524.30" stroke="#1a1a1a" stroke-width="1.5"/><polygon points="1063.20,518.80 1066.20,525.30 1060.20,525.30" fill="#1a1a1a"/>
<line x1="1063.2" y1="628" x2="1063.20" y2="611.10" stroke="#1a1a1a" stroke-width="1.5"/><polygon points="1063.20,605.60 1066.20,612.10 1060.20,612.10" fill="#1a1a1a"/>
<rect x="919.3" y="628.4" width="77.60" height="42.30" rx="7" ry="7" fill="#fbe6e8" stroke="#1f2547" stroke-width="1.5"/>
<text x="937.3" y="646.9" font-size="14.5" font-weight="bold" font-style="normal" fill="#141414" text-anchor="start" textLength="42.7" lengthAdjust="spacingAndGlyphs" stroke="#141414" stroke-width="0.35" >Cross-</text>
<text x="925.8" y="662.2" font-size="14.5" font-weight="bold" font-style="normal" fill="#141414" text-anchor="start" textLength="65.2" lengthAdjust="spacingAndGlyphs" stroke="#141414" stroke-width="0.35" >Attention</text>
<rect x="1023.1" y="628" width="78.50" height="42.40" rx="7" ry="7" fill="#fbe6e8" stroke="#1f2547" stroke-width="1.5"/>
<text x="1041.4" y="646.4" font-size="14.5" font-weight="bold" font-style="normal" fill="#141414" text-anchor="start" textLength="42.1" lengthAdjust="spacingAndGlyphs" stroke="#141414" stroke-width="0.35" >Cross-</text>
<text x="1030" y="661.8" font-size="14.5" font-weight="bold" font-style="normal" fill="#141414" text-anchor="start" textLength="65" lengthAdjust="spacingAndGlyphs" stroke="#141414" stroke-width="0.35" >Attention</text>
<path d="M926.3,691.5 L926.3,687.1 Q926.3,682.6 930.8,682.6 L954.9,682.6 Q959.4,682.6 959.4,676.4 Q959.4,682.6 963.9,682.6 L988.0,682.6 Q992.5,682.6 992.5,687.1 L992.5,691.5" fill="none" stroke="#1a1a1a" stroke-width="1.5"/>
<path d="M1027.8,691.5 L1027.8,687.1 Q1027.8,682.6 1032.3,682.6 L1056.7,682.6 Q1061.2,682.6 1061.2,676.4 Q1061.2,682.6 1065.7,682.6 L1090.0,682.6 Q1094.5,682.6 1094.5,687.1 L1094.5,691.5" fill="none" stroke="#1a1a1a" stroke-width="1.5"/>
<path d="M1129.8,691.5 L1129.8,687.1 Q1129.8,682.6 1134.3,682.6 L1158.8,682.6 Q1163.3,682.6 1163.3,676.4 Q1163.3,682.6 1167.8,682.6 L1192.0,682.6 Q1196.5,682.6 1196.5,687.1 L1196.5,691.5" fill="none" stroke="#1a1a1a" stroke-width="1.5"/>
<rect x="881.1" y="692.1" width="47.9" height="12.6" fill="#6c84f2"/><line x1="893.08" y1="692.1" x2="893.08" y2="704.7" stroke="#a4b2f8" stroke-width="1"/><line x1="905.05" y1="692.1" x2="905.05" y2="704.7" stroke="#a4b2f8" stroke-width="1"/><line x1="917.02" y1="692.1" x2="917.02" y2="704.7" stroke="#a4b2f8" stroke-width="1"/>
<rect x="987.8" y="694.7" width="47.6" height="13.1" fill="#7fd8c8"/><line x1="999.70" y1="694.7" x2="999.70" y2="707.8000000000001" stroke="#b4ebe0" stroke-width="1"/><line x1="1011.60" y1="694.7" x2="1011.60" y2="707.8000000000001" stroke="#b4ebe0" stroke-width="1"/><line x1="1023.50" y1="694.7" x2="1023.50" y2="707.8000000000001" stroke="#b4ebe0" stroke-width="1"/>
<rect x="1090.6" y="694.7" width="47" height="13.1" fill="#f4a0a0"/><line x1="1102.35" y1="694.7" x2="1102.35" y2="707.8000000000001" stroke="#fac8c8" stroke-width="1"/><line x1="1114.10" y1="694.7" x2="1114.10" y2="707.8000000000001" stroke="#fac8c8" stroke-width="1"/><line x1="1125.85" y1="694.7" x2="1125.85" y2="707.8000000000001" stroke="#fac8c8" stroke-width="1"/>
<rect x="1176" y="694.7" width="47.4" height="13.1" fill="#f8b07c"/><line x1="1187.85" y1="694.7" x2="1187.85" y2="707.8000000000001" stroke="#fbcfa8" stroke-width="1"/><line x1="1199.70" y1="694.7" x2="1199.70" y2="707.8000000000001" stroke="#fbcfa8" stroke-width="1"/><line x1="1211.55" y1="694.7" x2="1211.55" y2="707.8000000000001" stroke="#fbcfa8" stroke-width="1"/>
<text x="893" y="724.8" font-size="20" font-weight="normal" font-style="italic" fill="#141414" text-anchor="start" textLength="21.6" lengthAdjust="spacingAndGlyphs" >W*</text>
<text x="1004.6" y="726.2" font-size="23" font-weight="normal" font-style="italic" fill="#141414" text-anchor="start" >V</text>
<text x="1105" y="724.8" font-size="20" font-weight="normal" font-style="italic" fill="#141414" text-anchor="start" >H</text>
<text x="1120.2" y="715.6" font-size="7" font-weight="normal" font-style="normal" fill="#141414" text-anchor="start" >*</text>
<text x="1192.5" y="724.8" font-size="20" font-weight="normal" font-style="italic" fill="#141414" text-anchor="start" >S</text>
<text x="1203.6" y="715.2" font-size="7" font-weight="normal" font-style="normal" fill="#141414" text-anchor="start" >*</text>
<rect x="1132.9" y="577.8" width="82.7" height="25.9" fill="#e8ecf0" stroke="#1f2547" stroke-width="1.5"/>
<text x="1138.2" y="595.4" font-size="15.5" font-weight="normal" font-style="italic" fill="#141414" text-anchor="start" textLength="73.4" lengthAdjust="spacingAndGlyphs" >max{P(k | j)}</text>
<line x1="1166.6" y1="577.8" x2="1166.6" y2="549" stroke="#1a1a1a" stroke-width="1.5" stroke-dasharray="3.5 3"/>
<polygon points="1166.60,542.00 1169.60,548.50 1163.60,548.50" fill="#1a1a1a"/>
<polyline points="1146.3,625.6 1146.3,669.1 1201.6,669.1" fill="none" stroke="#1c2a3c" stroke-width="1.5"/><polyline points="1143.3,628.6 1146.3,624.6 1149.3,628.6" fill="none" stroke="#1c2a3c" stroke-width="1.5"/><polyline points="1198.6,666.1 1202.6,669.1 1198.6,672.1" fill="none" stroke="#1c2a3c" stroke-width="1.5"/><rect x="1154.7" y="649.2" width="5.00" height="19.90" fill="#f0608c" stroke="#1c2a3c" stroke-width="1"/><rect x="1163.3" y="636.6" width="5.00" height="32.50" fill="#f59a23" stroke="#1c2a3c" stroke-width="1"/><rect x="1172.5" y="657.4" width="4.80" height="11.70" fill="#4cc4c4" stroke="#1c2a3c" stroke-width="1"/><rect x="1183.4" y="663" width="4.60" height="6.10" fill="#5cbf98" stroke="#1c2a3c" stroke-width="1"/>
<line x1="1165.7" y1="636.4" x2="1165.70" y2="609.50" stroke="#1a1a1a" stroke-width="1.5"/><polygon points="1165.70,604.00 1168.70,610.50 1162.70,610.50" fill="#1a1a1a"/>
</svg></body></html>
